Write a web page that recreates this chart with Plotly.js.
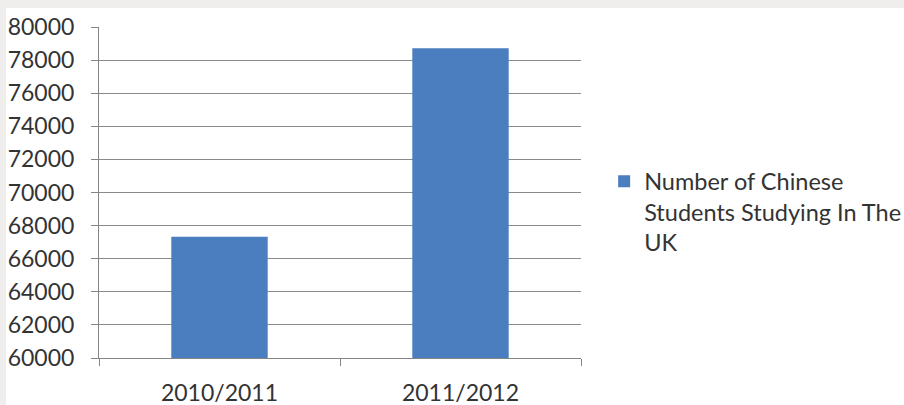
<!DOCTYPE html>
<html>
<head>
<meta charset="utf-8">
<script src="https://cdn.plot.ly/plotly-3.0.1.min.js"></script>
<style>
html,body{margin:0;padding:0;background:#efeeec;width:904px;height:405px;overflow:hidden;}
#chart{position:absolute;left:6px;top:8px;width:898px;height:397px;background:#fff;}
</style>
</head>
<body>
<div id="chart"></div>
<script>
var categories = ["2010/2011", "2011/2012"];
var students = [67325, 78715];
var seriesName = "Number of Chinese<br>Students Studying In The<br>UK";
var yTicks = [60000, 62000, 64000, 66000, 68000, 70000, 72000, 74000, 76000, 78000, 80000];

var fontFam = "Lato, 'Open Sans', sans-serif";
var textColor = "#333333";

var trace = {
  type: "bar",
  x: categories,
  y: students,
  name: seriesName,
  marker: {color: "#4a7ebf"},
  showlegend: true
};

var layout = {
  width: 898,
  height: 397,
  margin: {l: 93, r: 323, t: 19, b: 47, pad: 0, autoexpand: false},
  paper_bgcolor: "#ffffff",
  plot_bgcolor: "#ffffff",
  bargap: 0.6,
  font: {family: fontFam, size: 23, color: textColor},
  xaxis: {
    type: "category",
    showline: true,
    linecolor: "#858585",
    linewidth: 1,
    ticks: "outside",
    tickson: "boundaries",
    ticklen: 7,
    tickcolor: "#858585",
    showgrid: false,
    tickfont: {family: fontFam, size: 23, color: textColor},
    ticklabelstandoff: 14
  },
  yaxis: {
    range: [60000, 80000],
    tickvals: yTicks,
    ticktext: yTicks.map(String),
    showline: true,
    linecolor: "#858585",
    linewidth: 1,
    ticks: "outside",
    ticklen: 7,
    tickcolor: "#858585",
    showgrid: true,
    gridcolor: "#8a8a8a",
    gridwidth: 1,
    zeroline: false,
    tickfont: {family: fontFam, size: 23, color: textColor},
    ticklabelstandoff: 12
  },
  legend: {
    x: 1.048,
    xanchor: "left",
    y: 0.60,
    yanchor: "top",
    valign: "top",
    font: {family: fontFam, size: 23.5, color: textColor},
    bgcolor: "rgba(0,0,0,0)"
  }
};

Plotly.newPlot("chart", [trace], layout, {displayModeBar: false, staticPlot: true});
</script>
</body>
</html>
